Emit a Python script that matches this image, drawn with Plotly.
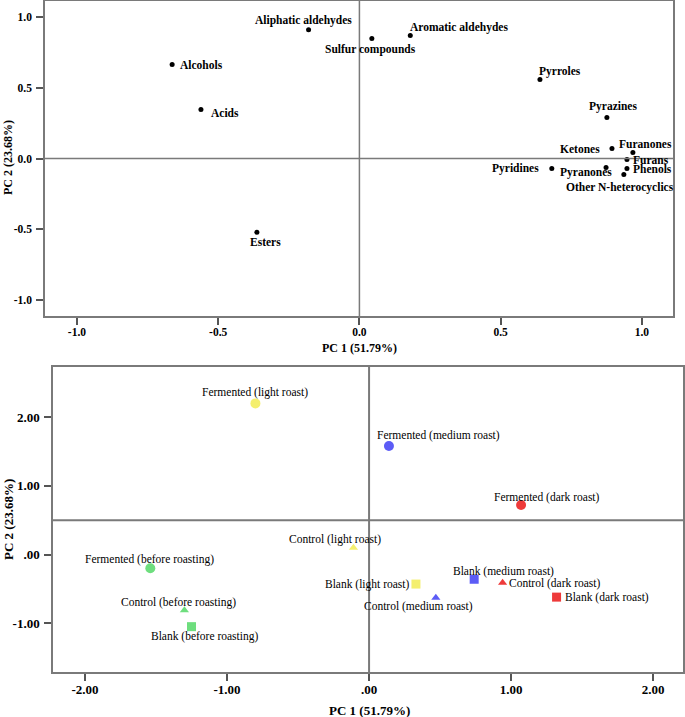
import plotly.graph_objects as go

# ---------------- Data: loadings (top panel) ----------------
load_names = ["Aliphatic aldehydes", "Sulfur compounds", "Aromatic aldehydes", "Alcohols",
              "Acids", "Esters", "Pyrroles", "Pyrazines", "Ketones", "Furanones", "Furans",
              "Phenols", "Other N-heterocyclics", "Pyranones", "Pyridines"]
load_pc1 = [-0.18, 0.044, 0.18, -0.663, -0.561, -0.363, 0.639, 0.876, 0.894, 0.968, 0.947,
            0.947, 0.936, 0.873, 0.681]
load_pc2 = [0.908, 0.845, 0.866, 0.662, 0.345, -0.52, 0.556, 0.289, 0.07, 0.042, -0.007,
            -0.07, -0.113, -0.063, -0.07]

# ---------------- Data: scores (bottom panel) ----------------
score_names = ["Fermented (light roast)", "Fermented (medium roast)", "Fermented (dark roast)",
               "Control (light roast)", "Blank (light roast)", "Blank (medium roast)",
               "Control (dark roast)", "Blank (dark roast)", "Control (medium roast)",
               "Fermented (before roasting)", "Control (before roasting)", "Blank (before roasting)"]
score_pc1 = [-0.80, 0.14, 1.07, -0.11, 0.33, 0.74, 0.94, 1.32, 0.47, -1.54, -1.30, -1.25]
score_pc2 = [2.20, 1.58, 0.72, 0.10, -0.43, -0.36, -0.41, -0.62, -0.63, -0.20, -0.81, -1.05]
score_treatment = ["Fermented", "Fermented", "Fermented", "Control", "Blank", "Blank",
                   "Control", "Blank", "Control", "Fermented", "Control", "Blank"]
score_roast = ["light", "medium", "dark", "light", "light", "medium", "dark", "dark", "medium",
               "before", "before", "before"]

x_ticks_top = [-1.0, -0.5, 0.0, 0.5, 1.0]
x_ticktext_top = ["-1.0", "-0.5", "0.0", "0.5", "1.0"]
y_ticks_top = [-1.0, -0.5, 0.0, 0.5, 1.0]
y_ticktext_top = ["-1.0", "-0.5", "0.0", "0.5", "1.0"]
x_ticks_bot = [-2, -1, 0, 1, 2]
x_ticktext_bot = ["-2.00", "-1.00", ".00", "1.00", "2.00"]
y_ticks_bot = [-1, 0, 1, 2]
y_ticktext_bot = ["-1.00", ".00", "1.00", "2.00"]

# ---------------- Styles ----------------
roast_color = {"light": "#f4ef6e", "medium": "#5c5cf6", "dark": "#ee3a3a", "before": "#6ede7e"}
treat_symbol = {"Fermented": "circle", "Control": "triangle-up", "Blank": "square"}
treat_size = {"Fermented": 10, "Control": 8, "Blank": 9}

# label placement (xanchor, xshift, yshift) for each label
load_lbl = [("center", -5, 9), ("center", -1, -11), ("left", -2, 8), ("left", 6, 0),
            ("left", 8, -3), ("center", 9, -10), ("left", -3, 8), ("center", 6, 11),
            ("right", -10, 0), ("left", -16, 9), ("left", 4, -1), ("left", 4, -1),
            ("center", -4, -13), ("center", -20, -5), ("right", -11, 0)]
score_lbl = [("center", 0, 11), ("left", -14, 10), ("left", -29, 8), ("left", -66, 8),
             ("right", -5, 0), ("left", -23, 8), ("left", 4, -1), ("left", 6, 0),
             ("left", -74, -9), ("left", -67, 9), ("left", -65, 8), ("left", -43, -10)]

SERIF = "Liberation Serif"
AXCOL = "#7a7a7a"

fig = go.Figure()

fig.add_trace(go.Scatter(x=load_pc1, y=load_pc2, mode="markers", xaxis="x", yaxis="y",
                         marker=dict(symbol="circle", size=5, color="black"),
                         showlegend=False, hoverinfo="text", text=load_names))

for tr in ["Fermented", "Control", "Blank"]:
    for ro in ["light", "medium", "dark", "before"]:
        idx = [i for i in range(len(score_names))
               if score_treatment[i] == tr and score_roast[i] == ro]
        if not idx:
            continue
        fig.add_trace(go.Scatter(
            x=[score_pc1[i] for i in idx], y=[score_pc2[i] for i in idx],
            mode="markers", xaxis="x2", yaxis="y2", showlegend=False,
            marker=dict(symbol=treat_symbol[tr], size=treat_size[tr], color=roast_color[ro],
                        line=dict(width=0)),
            hoverinfo="text", text=[score_names[i] for i in idx]))

annotations = []
for i, n in enumerate(load_names):
    xa, xs, ys = load_lbl[i]
    annotations.append(dict(x=load_pc1[i], y=load_pc2[i], xref="x", yref="y", text=n,
                            showarrow=False, xanchor=xa, yanchor="middle", xshift=xs, yshift=ys,
                            font=dict(family=SERIF, size=11.5, color="black", weight="bold")))
for i, n in enumerate(score_names):
    xa, xs, ys = score_lbl[i]
    annotations.append(dict(x=score_pc1[i], y=score_pc2[i], xref="x2", yref="y2", text=n,
                            showarrow=False, xanchor=xa, yanchor="middle", xshift=xs, yshift=ys,
                            font=dict(family=SERIF, size=11.5, color="black")))

# axis titles
W, H = 685, 717
def px(xp): return xp / W
def py(yp): return 1 - yp / H
titlefont_top = dict(family=SERIF, size=12, color="black", weight="bold")
titlefont_bot = dict(family=SERIF, size=13, color="black", weight="bold")
annotations += [
    dict(x=px(359), y=py(348), xref="paper", yref="paper", text="PC 1 (51.79%)",
         showarrow=False, font=titlefont_top, xanchor="center", yanchor="middle"),
    dict(x=px(8), y=py(158), xref="paper", yref="paper", text="PC 2 (23.68%)", textangle=-90,
         showarrow=False, font=titlefont_top, xanchor="center", yanchor="middle"),
    dict(x=px(369), y=py(710), xref="paper", yref="paper", text="PC 1 (51.79%)",
         showarrow=False, font=titlefont_bot, xanchor="center", yanchor="middle"),
    dict(x=px(8), y=py(520), xref="paper", yref="paper", text="PC 2 (23.68%)", textangle=-90,
         showarrow=False, font=titlefont_bot, xanchor="center", yanchor="middle"),
]

shapes = [
    dict(type="line", xref="x", yref="y domain", x0=0, x1=0, y0=0, y1=1,
         line=dict(color=AXCOL, width=1.5)),
    dict(type="line", xref="x domain", yref="y", x0=0, x1=1, y0=0, y1=0,
         line=dict(color=AXCOL, width=1.5)),
    dict(type="line", xref="x2", yref="y2 domain", x0=0, x1=0, y0=0, y1=1,
         line=dict(color=AXCOL, width=2)),
    dict(type="line", xref="x2 domain", yref="y2", x0=0, x1=1, y0=0.5, y1=0.5,
         line=dict(color=AXCOL, width=2)),
]

def axis(domain, rng, tv, tt, anchor, size, standoff):
    return dict(domain=domain, range=rng, tickvals=tv, ticktext=tt, anchor=anchor,
                showline=True, mirror=True, linecolor=AXCOL, linewidth=1.5,
                ticks="outside", ticklen=7, tickwidth=1.5, tickcolor="#555555",
                showgrid=False, zeroline=False, ticklabelstandoff=standoff,
                tickfont=dict(family=SERIF, size=size, color="black", weight="bold"))

fig.update_layout(
    width=W, height=H, margin=dict(l=0, r=0, t=0, b=0),
    paper_bgcolor="white", plot_bgcolor="white",
    xaxis=axis([px(45), px(673)], [-1.113, 1.11], x_ticks_top, x_ticktext_top, "y", 11.5, -3),
    yaxis=axis([py(316), py(1)], [-1.11, 1.11], y_ticks_top, y_ticktext_top, "x", 11.5, 2),
    xaxis2=axis([px(53), px(683)], [-2.225, 2.21], x_ticks_bot, x_ticktext_bot, "y2", 13, -2),
    yaxis2=axis([py(672), py(367)], [-1.71, 2.73], y_ticks_bot, y_ticktext_bot, "x2", 13, 2),
    annotations=annotations, shapes=shapes,
)

fig.write_html("out.html", config={"displayModeBar": False},
               post_script="document.body.style.margin='0';document.body.style.overflow='hidden';")
